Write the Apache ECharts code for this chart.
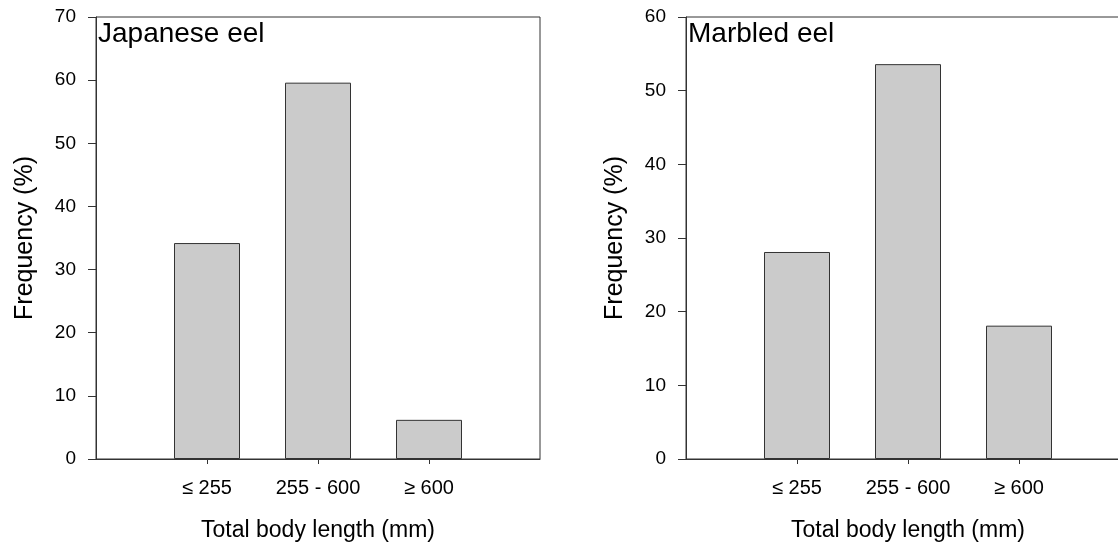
<!DOCTYPE html>
<html>
<head>
<meta charset="utf-8">
<script src="https://cdn.jsdelivr.net/npm/echarts@6/dist/echarts.min.js"></script>
<style>
  html, body { margin: 0; padding: 0; background: #fff; }
  #main { width: 1118px; height: 543px; }
</style>
</head>
<body>
<div id="main"></div>
<script>
// length classes
let categories = ['≤ 255', '255 - 600', '≥ 600'];
// frequency (%) per class
let japaneseEel = [34.2, 59.6, 6.2];
let marbledEel = [28.1, 53.6, 18.1];
// y axis ranges
let japaneseMax = 70;
let marbledMax = 60;
let yStep = 10;

const FONT = 'Liberation Sans, Arial, sans-serif';
const LINE = '#333';

// empty slot at both ends so the bars sit at 1, 2, 3 of 0..4
let axisCats = [''].concat(categories, ['']);
function pad(arr) {
    return [null].concat(arr, [null]);
}

function xAxisOf(idx) {
    return {
        type: 'category',
        gridIndex: idx,
        data: axisCats,
        boundaryGap: false,
        name: 'Total body length (mm)',
        nameLocation: 'middle',
        nameGap: 60,
        nameTextStyle: {color: '#000', fontSize: 23, fontFamily: FONT},
        axisLine: {lineStyle: {color: LINE, width: 1}},
        axisTick: {
            length: 5,
            lineStyle: {color: LINE},
            interval: (i, v) => v !== ''
        },
        axisLabel: {
            color: '#000', fontSize: 20, fontFamily: FONT, margin: 19,
            interval: 0
        },
        splitLine: {show: false}
    };
}

function yAxisOf(idx, max) {
    return {
        type: 'value',
        gridIndex: idx,
        min: 0,
        max: max,
        interval: yStep,
        name: 'Frequency (%)',
        nameLocation: 'middle',
        nameGap: 58,
        nameTextStyle: {color: '#000', fontSize: 25, fontFamily: FONT},
        axisLine: {show: true, lineStyle: {color: LINE, width: 1}},
        axisTick: {show: true, length: 8, lineStyle: {color: LINE}},
        axisLabel: {color: '#000', fontSize: 19, fontFamily: FONT, margin: 20},
        splitLine: {show: false}
    };
}

function barOf(idx, data) {
    return {
        type: 'bar',
        xAxisIndex: idx,
        yAxisIndex: idx,
        data: pad(data),
        barWidth: 66,
        itemStyle: {color: '#cbcbcb', borderColor: LINE, borderWidth: 1},
        silent: true
    };
}

let chart = echarts.init(document.getElementById('main'));
chart.setOption({
    animation: false,
    backgroundColor: '#fff',
    title: [
        {text: 'Japanese eel', left: 98, top: 20, padding: 0,
         textStyle: {color: '#000', fontSize: 28, fontWeight: 'normal', fontFamily: FONT}},
        {text: 'Marbled eel', left: 688, top: 20, padding: 0,
         textStyle: {color: '#000', fontSize: 28, fontWeight: 'normal', fontFamily: FONT}}
    ],
    grid: [
        {left: 96, top: 17, width: 444, height: 442, outerBoundsMode: 'none',
         show: true, borderColor: LINE, borderWidth: 1},
        {left: 686, top: 17, right: -12, height: 442, outerBoundsMode: 'none',
         show: true, borderColor: LINE, borderWidth: 1}
    ],
    xAxis: [xAxisOf(0), xAxisOf(1)],
    yAxis: [yAxisOf(0, japaneseMax), yAxisOf(1, marbledMax)],
    series: [barOf(0, japaneseEel), barOf(1, marbledEel)]
});
</script>
</body>
</html>
